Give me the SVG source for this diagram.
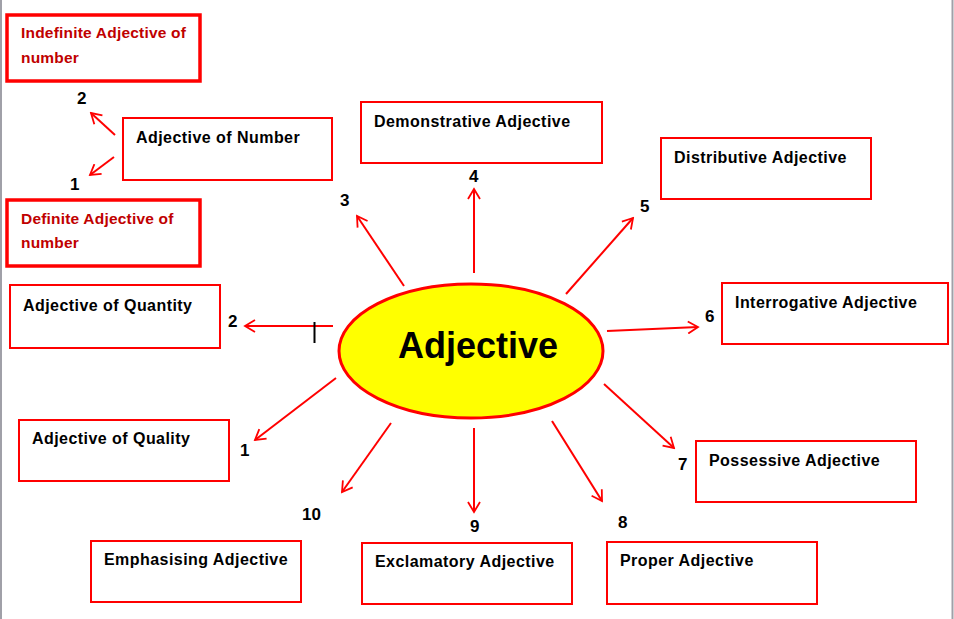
<svg xmlns="http://www.w3.org/2000/svg" width="954" height="619" viewBox="0 0 954 619">
<defs>
<marker id="ah" markerWidth="14" markerHeight="14" refX="12" refY="7" orient="auto" markerUnits="userSpaceOnUse">
<path d="M2,1 L12,7 L2,13" fill="none" stroke="#FF0000" stroke-width="1.8"/>
</marker>
<style>
.box{fill:#fff;stroke:#FF0000;stroke-width:2}
.tbox{fill:#fff;stroke:#FF0000;stroke-width:3.5}
.t{font-family:"Liberation Sans",Arial,sans-serif;font-weight:bold;font-size:16px;letter-spacing:0.45px;fill:#000}
.tr{font-family:"Liberation Sans",Arial,sans-serif;font-weight:bold;font-size:15.5px;letter-spacing:0.2px;fill:#C00000}
.n{font-family:"Liberation Sans",Arial,sans-serif;font-weight:bold;font-size:17px;fill:#000}
.c{stroke:#FF0000;stroke-width:2;fill:none;marker-end:url(#ah)}
</style>
</defs>
<rect x="0" y="0" width="954" height="619" fill="#fff"/>
<line x1="1" y1="0" x2="1" y2="619" stroke="#A0A0A8" stroke-width="2"/>
<line x1="952.5" y1="0" x2="952.5" y2="619" stroke="#A0A0A8" stroke-width="2"/>

<g id="connectors">
<line class="c" x1="115" y1="135" x2="91" y2="113"/>
<line class="c" x1="114" y1="157" x2="90" y2="175"/>
<line class="c" x1="474" y1="273" x2="474" y2="189"/>
<line class="c" x1="404" y1="286" x2="357" y2="216"/>
<line class="c" x1="566" y1="294" x2="633" y2="218"/>
<line class="c" x1="607" y1="331" x2="698" y2="327"/>
<line class="c" x1="333" y1="326" x2="245" y2="326"/>
<line class="c" x1="336" y1="378" x2="255" y2="440"/>
<line class="c" x1="604" y1="384" x2="674" y2="448"/>
<line class="c" x1="391" y1="423" x2="342" y2="492"/>
<line class="c" x1="474" y1="428" x2="474" y2="512"/>
<line class="c" x1="552" y1="421" x2="602" y2="501"/>
</g>

<g id="n-indefinite">
<rect class="tbox" x="7" y="15" width="193" height="66"/>
<text class="tr" x="21" y="38">Indefinite Adjective of</text>
<text class="tr" x="21" y="63">number</text>
</g>
<g id="n-definite">
<rect class="tbox" x="7" y="200" width="193" height="66"/>
<text class="tr" x="21" y="224">Definite Adjective of</text>
<text class="tr" x="21" y="248">number</text>
</g>
<g id="n-number">
<rect class="box" x="123" y="118" width="209" height="62"/>
<text class="t" x="136" y="143">Adjective of Number</text>
</g>
<text class="n" x="77" y="104" font-size="14">2</text>
<text class="n" x="70" y="190" font-size="14">1</text>

<g id="n-demonstrative">
<rect class="box" x="361" y="102" width="241" height="61"/>
<text class="t" x="374" y="127">Demonstrative Adjective</text>
</g>
<text class="n" x="469" y="182">4</text>
<text class="n" x="340" y="206">3</text>

<g id="n-distributive">
<rect class="box" x="661" y="138" width="210" height="61"/>
<text class="t" x="674" y="163">Distributive Adjective</text>
</g>
<text class="n" x="640" y="212">5</text>

<g id="n-interrogative">
<rect class="box" x="722" y="283" width="226" height="61"/>
<text class="t" x="735" y="308">Interrogative Adjective</text>
</g>
<text class="n" x="705" y="322">6</text>

<g id="n-adjective">
<ellipse cx="471" cy="351" rx="132" ry="67" fill="#FFFF00" stroke="#FF0000" stroke-width="3"/>
<text x="478" y="358" text-anchor="middle" font-family="'Liberation Sans',Arial,sans-serif" font-weight="bold" font-size="36" fill="#000">Adjective</text>
</g>

<g id="n-quantity">
<rect class="box" x="10" y="285" width="210" height="63"/>
<text class="t" x="23" y="311">Adjective of Quantity</text>
</g>
<text class="n" x="228" y="327">2</text>
<line x1="314.5" y1="322" x2="314.5" y2="343" stroke="#000" stroke-width="2"/>

<g id="n-quality">
<rect class="box" x="19" y="420" width="210" height="61"/>
<text class="t" x="32" y="444">Adjective of Quality</text>
</g>
<text class="n" x="240" y="456">1</text>

<g id="n-possessive">
<rect class="box" x="696" y="441" width="220" height="61"/>
<text class="t" x="709" y="466">Possessive Adjective</text>
</g>
<text class="n" x="678" y="470">7</text>

<g id="n-emphasising">
<rect class="box" x="91" y="541" width="210" height="61"/>
<text class="t" x="104" y="565">Emphasising Adjective</text>
</g>
<text class="n" x="302" y="520">10</text>

<g id="n-exclamatory">
<rect class="box" x="362" y="543" width="210" height="61"/>
<text class="t" x="375" y="567">Exclamatory Adjective</text>
</g>
<text class="n" x="470" y="532">9</text>

<g id="n-proper">
<rect class="box" x="607" y="542" width="210" height="62"/>
<text class="t" x="620" y="566">Proper Adjective</text>
</g>
<text class="n" x="618" y="528">8</text>
</svg>
